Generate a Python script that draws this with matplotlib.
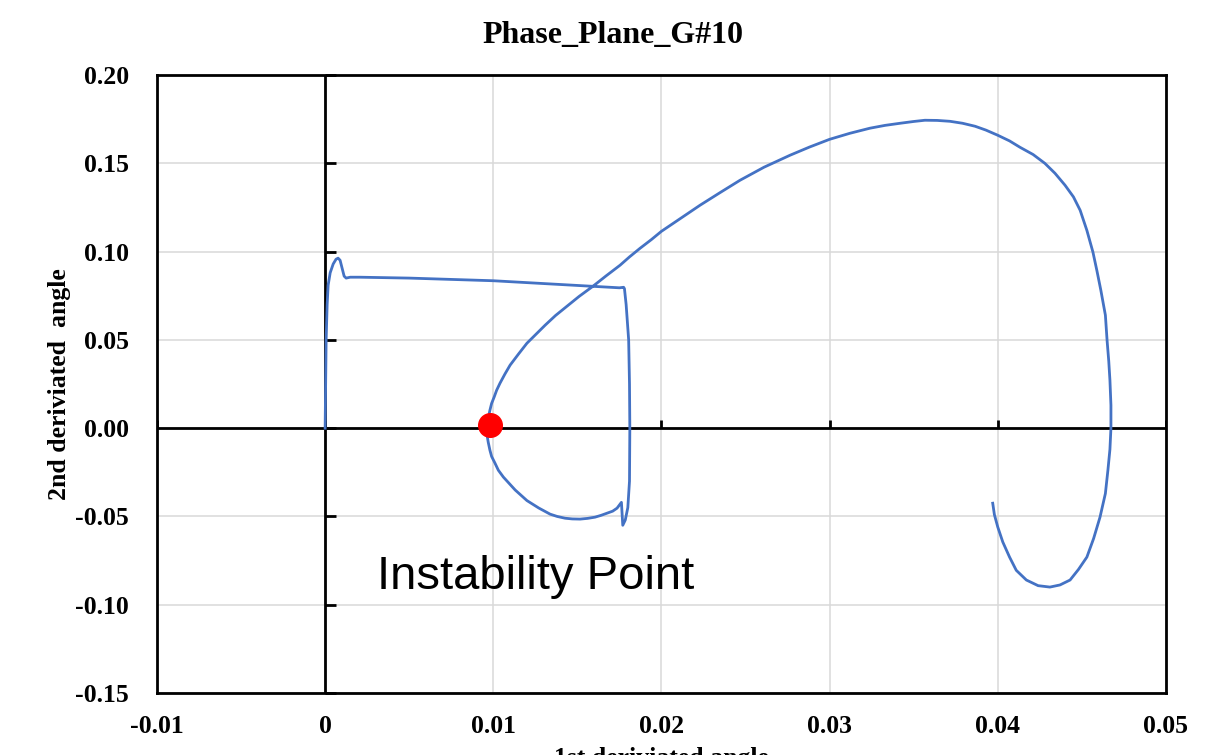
import numpy as np
import matplotlib
matplotlib.use("Agg")
import matplotlib.pyplot as plt

# Phase plane trajectory
x_vals = [0.0, 0.00003, 0.00006, 0.00012, 0.00018, 0.0003, 0.00048, 0.00065, 0.00077,
          0.00089, 0.00101, 0.00113, 0.00125, 0.00149, 0.00208, 0.005, 0.010, 0.015,
          0.0175, 0.01775, 0.0178, 0.0179, 0.01805, 0.0181, 0.01812, 0.0181, 0.0180,
          0.01785, 0.0177, 0.01762, 0.01736, 0.0171, 0.01677, 0.0164, 0.01605, 0.0156,
          0.01516, 0.0147, 0.01427, 0.0138, 0.01338, 0.0127, 0.0120, 0.0113, 0.0106,
          0.0103, 0.0101, 0.0099, 0.0098, 0.0097, 0.00963, 0.00963, 0.0097, 0.0098,
          0.0099, 0.01005, 0.0102, 0.0104, 0.0107, 0.0110, 0.0115, 0.0120, 0.01255,
          0.01308, 0.0137, 0.01439, 0.0151, 0.01593, 0.0167, 0.01754, 0.0181, 0.01873,
          0.0194, 0.0200, 0.0212, 0.0223, 0.0235, 0.02467, 0.0261, 0.02765, 0.0288,
          0.0300, 0.0312, 0.0324, 0.0333, 0.0342, 0.0350, 0.03567, 0.0364, 0.03716,
          0.0379, 0.03865, 0.0393, 0.0400, 0.0407, 0.04132, 0.0421, 0.0428, 0.0434,
          0.0440, 0.0445, 0.0449, 0.0453, 0.04566, 0.0459, 0.04613, 0.0464, 0.0465,
          0.0466, 0.04667, 0.04673, 0.04673, 0.04667, 0.04655, 0.0464, 0.04608, 0.0457,
          0.0453, 0.0448, 0.0443, 0.0437, 0.0431, 0.0424, 0.0417, 0.0411, 0.0407,
          0.0403, 0.0400, 0.0398, 0.0397]
y_vals = [0.0, 0.027, 0.050, 0.070, 0.081, 0.088, 0.093, 0.0957, 0.0963,
          0.0951, 0.0906, 0.0861, 0.085, 0.0855, 0.0855, 0.0850, 0.0835, 0.0808,
          0.0795, 0.0798, 0.0790, 0.070, 0.050, 0.025, 0.0, -0.030, -0.045,
          -0.052, -0.055, -0.042, -0.0453, -0.0470, -0.0481, -0.0494, -0.0504, -0.0511,
          -0.0515, -0.0514, -0.051, -0.0500, -0.0487, -0.0452, -0.041, -0.035, -0.0277,
          -0.0238, -0.0198, -0.016, -0.0125, -0.008, -0.004, 0.0, 0.0057, 0.0102,
          0.014, 0.0176, 0.0215, 0.0255, 0.0308, 0.0357, 0.0420, 0.0481, 0.0533,
          0.0583, 0.0638, 0.0691, 0.0746, 0.0804, 0.0862, 0.0923, 0.0970, 0.1019,
          0.1068, 0.1115, 0.1192, 0.1263, 0.1335, 0.1404, 0.1478, 0.1546, 0.1592,
          0.1636, 0.1670, 0.1699, 0.1715, 0.1727, 0.1737, 0.1744, 0.1743, 0.1738,
          0.1727, 0.1710, 0.1688, 0.1659, 0.1627, 0.1591, 0.1550, 0.150, 0.1444,
          0.1376, 0.1310, 0.1234, 0.1120, 0.0997, 0.0890, 0.0781, 0.0640, 0.0498,
          0.0380, 0.0272, 0.013, 0.0, -0.012, -0.0238, -0.037, -0.0504, -0.0625,
          -0.073, -0.080, -0.086, -0.0888, -0.090, -0.0892, -0.086, -0.0805, -0.073,
          -0.0645, -0.056, -0.049, -0.0425]

# instability point
inst_x = [0.0098]
inst_y = [0.0017]

x_ticks = [-0.01, 0, 0.01, 0.02, 0.03, 0.04, 0.05]
x_labels = ['-0.01', '0', '0.01', '0.02', '0.03', '0.04', '0.05']
y_ticks = [-0.15, -0.10, -0.05, 0.00, 0.05, 0.10, 0.15, 0.20]
y_labels = ['-0.15', '-0.10', '-0.05', '0.00', '0.05', '0.10', '0.15', '0.20']

serif = ['Liberation Serif', 'DejaVu Serif']

fig = plt.figure(figsize=(12.14, 7.55), dpi=100)
ax = fig.add_axes([0.1293, 0.0821, 0.8311, 0.8185])

ax.set_xlim(-0.01, 0.05)
ax.set_ylim(-0.15, 0.20)
ax.set_xticks(x_ticks)
ax.set_xticklabels(x_labels, family=serif, fontweight='bold', fontsize=18.5)
ax.set_yticks(y_ticks)
ax.set_yticklabels(y_labels, family=serif, fontweight='bold', fontsize=18.5)
ax.tick_params(axis='x', length=0, pad=16)
ax.tick_params(axis='y', length=0, pad=20)
ax.grid(True, color='#d9d9d9', lw=1.1)
ax.set_axisbelow(True)
for s in ax.spines.values():
    s.set_color('black')
    s.set_linewidth(2)

# axis lines through zero with small tick marks
ax.axhline(0, color='black', lw=2, zorder=2)
ax.axvline(0, color='black', lw=2, zorder=2)
ax.plot(np.zeros(len(y_ticks)), y_ticks, ls='none', marker=1, ms=8, mew=2,
        color='black', zorder=2, clip_on=False)
ax.plot(x_ticks, np.zeros(len(x_ticks)), ls='none', marker=2, ms=6, mew=2,
        color='black', zorder=2)

ax.plot(x_vals, y_vals, color='#4472C4', lw=2, zorder=3)
ax.plot(inst_x, inst_y, 'o', color='#FF0000', ms=17, zorder=4)

ax.text(0.0031, -0.0912, 'Instability Point', family=['Liberation Sans', 'DejaVu Sans'],
        fontsize=34, va='baseline', ha='left', color='black')

fig.text(0.505, 0.943, 'Phase_Plane_G#10', family=serif, fontweight='bold',
         fontsize=23, ha='center', va='baseline')
ax.set_ylabel('2nd deriviated  angle', family=serif, fontweight='bold', fontsize=18.5)
ax.yaxis.set_label_coords(-0.085, 0.5)
ax.set_xlabel('1st deriviated angle', family=serif, fontweight='bold', fontsize=18.5)
ax.xaxis.set_label_coords(0.5, -0.087)

fig.savefig('out.png', dpi=100)
